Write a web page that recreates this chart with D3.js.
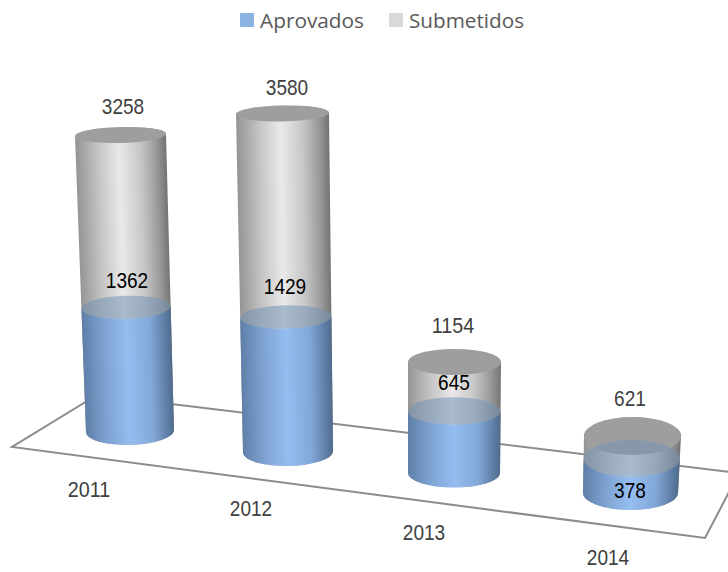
<!DOCTYPE html>
<html><head><meta charset="utf-8">
<script src="https://cdn.jsdelivr.net/npm/d3@7"></script>
<style>html,body{margin:0;padding:0;background:#fff}svg{display:block}</style>
</head><body><div id="chart"></div>
<script>
// data
const categories = ["2011","2012","2013","2014"];
const aprovados  = [1362,1429,645,378];
const submetidos = [3258,3580,1154,621];
const seriesNames = ["Aprovados","Submetidos"];

// pseudo-3D layout fitted to the picture (per category: value 0 -> largest value)
const yRange  = [[431,135],[452,113.5],[473,362],[493,436]];
const xRange  = [[130,120.5],[288,282.5],[454,454.5],[630.5,632.5]];
const rxRange = [[44,45.5],[45,46.5],[46,46.5],[47.5,48.5]];
const ryRange = [[14,8],[14,8],[14.5,13],[17,19]];
const tilt    = [-1.5,-1,0,0];
const floorPts = [[97,395],[739,473],[705,538],[12,447]];
const topLabelPos = [[123,106],[287,87],[453,325],[630,398]];
const innerLabelPos = [[127,280],[285,286],[454,382],[630,490]];
const axisLabelPos = [[89,489],[251,508],[424,532],[608,557]];

const W = 728, H = 572;
const svg = d3.select("#chart").append("svg").attr("width",W).attr("height",H);
const defs = svg.append("defs");

const greyStops = [[0,"#959595"],[.25,"#c6c6c6"],[.48,"#e9e9e9"],[.72,"#c6c6c6"],[.9,"#979797"],[1,"#757575"]];
const blueStops = [[0,"#5f7fa8"],[.25,"#7fa4d3"],[.5,"#95bdf0"],[.76,"#82a8d8"],[.92,"#5f7fa6"],[1,"#506c8e"]];

// floor
svg.append("path")
  .attr("d", d3.line()(floorPts)+"Z")
  .attr("fill","none").attr("stroke","#8c8c8c").attr("stroke-width",2);

const scales = categories.map((c,i)=>{
  const dom=[0,submetidos[i]];
  return {
    x:d3.scaleLinear().domain(dom).range(xRange[i]),
    y:d3.scaleLinear().domain(dom).range(yRange[i]),
    rx:d3.scaleLinear().domain(dom).range(rxRange[i]),
    ry:d3.scaleLinear().domain(dom).range(ryRange[i])
  };
});

function edge(s,v,t,side){
  const a=t*Math.PI/180, r=s.rx(v);
  return [s.x(v)+side*r*Math.cos(a), s.y(v)+side*r*Math.sin(a)];
}
// topSweep 0: the top edge bulges up (opaque top, covered by a cap);
// topSweep 1: the top edge follows the front of the cap, so the cap is seen through
function bodyPath(s,v,t,topSweep){
  const tl=edge(s,v,t,-1),tr=edge(s,v,t,1),bl=edge(s,0,t,-1),br=edge(s,0,t,1);
  return `M${tl}L${bl}A${s.rx(0)},${s.ry(0)} ${t} 0 0 ${br}L${tr}A${s.rx(v)},${s.ry(v)} ${t} 0 ${topSweep} ${tl}Z`;
}
function gradient(id,s,v,stops){
  const dx=s.x(0)-s.x(v), dy=s.y(0)-s.y(v), n=Math.hypot(dx,dy);
  const ux=dy/n, uy=-dx/n, r=(s.rx(0)+s.rx(v))/2, mx=(s.x(0)+s.x(v))/2, my=(s.y(0)+s.y(v))/2;
  const g=defs.append("linearGradient").attr("id",id).attr("gradientUnits","userSpaceOnUse")
    .attr("x1",mx-ux*r).attr("y1",my-uy*r).attr("x2",mx+ux*r).attr("y2",my+uy*r);
  stops.forEach(d=>g.append("stop").attr("offset",d[0]).attr("stop-color",d[1]));
}

categories.forEach((c,i)=>{
  const s=scales[i], t=tilt[i], g=svg.append("g");
  const vS=submetidos[i], vA=aprovados[i];
  gradient("g"+i,s,vS,greyStops);
  gradient("b"+i,s,vA,blueStops);
  g.append("path").attr("d",bodyPath(s,vS,t,0)).attr("fill",`url(#g${i})`);
  g.append("ellipse").attr("rx",s.rx(vS)).attr("ry",s.ry(vS))
    .attr("transform",`translate(${s.x(vS)},${s.y(vS)}) rotate(${t})`).attr("fill","#9e9e9e");
  g.append("path").attr("d",bodyPath(s,vA,t,1)).attr("fill",`url(#b${i})`);
  g.append("ellipse").attr("rx",s.rx(vA)).attr("ry",s.ry(vA))
    .attr("transform",`translate(${s.x(vA)},${s.y(vA)}) rotate(${t})`)
    .attr("fill","#7593b4").attr("fill-opacity",.55);
});

// labels
function label(txt,pos,fill,len){
  svg.append("text").attr("x",pos[0]).attr("y",pos[1]+8)
    .attr("text-anchor","middle").attr("font-family","'Liberation Sans'")
    .attr("font-size",22).attr("fill",fill)
    .attr("textLength",len).attr("lengthAdjust","spacingAndGlyphs").text(txt);
}
submetidos.forEach((v,i)=>label(v,topLabelPos[i],"#404040",String(v).length*10.6));
aprovados.forEach((v,i)=>label(v,innerLabelPos[i],"#000",String(v).length*10.6));
categories.forEach((c,i)=>label(c,axisLabelPos[i],"#404040",c.length*10.6));

// legend
const legendSwatch=[240,389], legendText=[260,409], legendLen=[104,115], legendCol=["#8db3e2","#d9d9d9"];
seriesNames.forEach((n,i)=>{
  svg.append("rect").attr("x",legendSwatch[i]).attr("y",13).attr("width",14).attr("height",14).attr("fill",legendCol[i]);
  svg.append("text").attr("x",legendText[i]).attr("y",28).attr("font-family","'Open Sans'")
    .attr("font-size",20).attr("fill","#595959")
    .attr("textLength",legendLen[i]).attr("lengthAdjust","spacingAndGlyphs").text(n);
});
</script></body></html>
